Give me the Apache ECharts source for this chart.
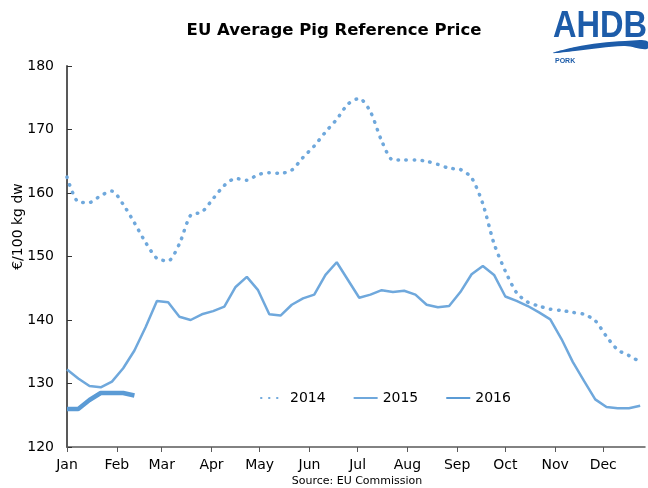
<!DOCTYPE html>
<html>
<head>
<meta charset="utf-8">
<script src="https://cdn.jsdelivr.net/npm/echarts@6/dist/echarts.min.js"></script>
<style>html,body{margin:0;padding:0;background:#fff}#c{width:648px;height:488px}</style>
</head>
<body>
<div id="c"></div>
<script>
// Month tick labels and the day-of-year on which each month starts
const months = ['Jan','Feb','Mar','Apr','May','Jun','Jul','Aug','Sep','Oct','Nov','Dec'];
const monthStartDays = [0,31,59,90,120,151,181,212,243,273,304,334];
const axisEndDay = 360;

// Weekly EU average pig reference price (€/100 kg dw), week 1 = first week of Jan
const price2014 = [162.5,158.6,158.5,159.6,160.3,158.2,155.3,152.2,149.7,149.3,152.0,156.5,157.0,159.1,161.2,162.3,162.0,162.9,163.2,163.1,163.6,165.6,167.4,169.6,171.6,174.0,174.9,172.8,168.2,165.2,165.2,165.2,165.0,164.5,163.9,163.7,162.4,158.3,152.0,147.7,144.3,142.8,142.2,141.7,141.5,141.2,140.9,139.9,137.4,135.3,134.4,133.4];
const price2015 = [132.2,130.8,129.6,129.4,130.3,132.4,135.2,138.9,143.0,142.8,140.5,140.0,140.9,141.4,142.1,145.2,146.8,144.7,140.9,140.7,142.4,143.4,144.0,147.1,149.1,146.3,143.5,144.0,144.7,144.4,144.6,144.0,142.4,142.0,142.2,144.4,147.2,148.5,147.1,143.7,143.0,142.2,141.2,140.1,137.0,133.4,130.4,127.5,126.3,126.1,126.1,126.5];
const price2016 = [126.0,126.0,127.4,128.5,128.5,128.5,128.1];

const dayCats = [];
for (let d = 0; d <= axisEndDay; d++) dayCats.push('d' + d);
const weekly = arr => arr.map((v, i) => [i * 7, v]);
const isMonthStart = idx => monthStartDays.indexOf(idx) >= 0;

const chart = echarts.init(document.getElementById('c'));
const ff = 'DejaVu Sans, Liberation Sans, Arial, sans-serif';
const logoFont = 'Liberation Sans, Arial, sans-serif';
const logoBlue = '#1d5ca9';
chart.setOption({
  animation: false,
  backgroundColor: '#fff',
  title: {
    text: 'EU Average Pig Reference Price',
    left: 329, top: 17, textAlign: 'center',
    textStyle: {fontFamily: ff, fontSize: 16.5, fontWeight: 'bold', color: '#000'}
  },
  legend: {
    left: 255, top: 386, itemGap: 27, itemWidth: 24, itemHeight: 14,
    textStyle: {fontFamily: ff, fontSize: 14, color: '#000'},
    itemStyle: {opacity: 0, borderWidth: 0},
    data: ['2014','2015','2016']
  },
  grid: {left: 67, right: 3, top: 66, bottom: 41, containLabel: false, outerBoundsMode: 'none'},
  xAxis: {
    type: 'category', data: dayCats, boundaryGap: false,
    axisLine: {lineStyle: {color: '#595959', width: 1.5}},
    axisTick: {show: true, length: 5, interval: isMonthStart, lineStyle: {color: '#595959'}},
    axisLabel: {
      interval: isMonthStart, margin: 11, hideOverlap: false,
      fontFamily: ff, fontSize: 14, color: '#000',
      formatter: (val, idx) => months[monthStartDays.indexOf(idx)]
    },
    splitLine: {show: false}
  },
  yAxis: {
    type: 'value', min: 120, max: 180, interval: 10,
    name: '€/100 kg dw', nameLocation: 'middle', nameGap: 42, nameRotate: 90, nameMoveOverlap: false,
    nameTextStyle: {fontFamily: ff, fontSize: 14, color: '#000', padding: [0, 0, 0, 60]},
    axisLine: {show: true, lineStyle: {color: '#595959', width: 2}},
    axisTick: {show: true, inside: true, length: 5, lineStyle: {color: '#333'}},
    axisLabel: {fontFamily: ff, fontSize: 14, color: '#000', margin: 13},
    splitLine: {show: false}
  },
  series: [
    {name: '2014', type: 'line', data: weekly(price2014), showSymbol: false, symbol: 'none', smooth: 0.25,
     lineStyle: {color: '#6fa8dc', width: 3.5, type: [0.5, 7.5], cap: 'round'}, itemStyle: {color: '#6fa8dc'}},
    {name: '2015', type: 'line', data: weekly(price2015), showSymbol: false, symbol: 'none',
     lineStyle: {color: '#6fa8dc', width: 2.5}, itemStyle: {color: '#6fa8dc'}},
    {name: '2016', type: 'line', data: weekly(price2016), showSymbol: false, symbol: 'none',
     lineStyle: {color: '#5b9bd5', width: 4.5}, itemStyle: {color: '#5b9bd5'}}
  ],
  graphic: [
    {type: 'text', x: 357, y: 476,
     style: {text: 'Source: EU Commission', fontFamily: ff, fontSize: 11, fill: '#000', textAlign: 'center'}},
    {type: 'text', x: 553, y: 8, scaleX: 0.88,
     style: {text: 'AHDB', fontFamily: logoFont, fontSize: 37, fontWeight: 'bold', fill: logoBlue}},
    {type: 'polygon', shape: {points: [[553,53],[575,47],[600,43],[625,41],[647,41],[647,49],[625,46],[600,48],[575,51]], smooth: 0.35},
     style: {fill: logoBlue}},
    {type: 'text', x: 555, y: 58,
     style: {text: 'PORK', fontFamily: logoFont, fontSize: 7, fontWeight: 'bold', fill: logoBlue}}
  ]
});
</script>
</body>
</html>
